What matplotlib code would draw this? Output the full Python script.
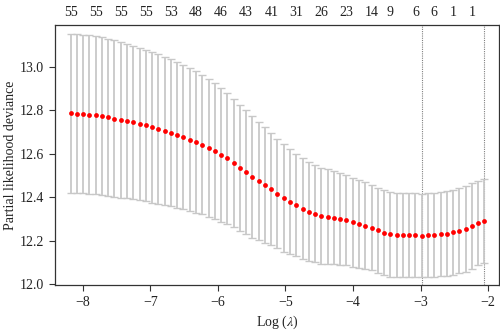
import matplotlib
matplotlib.use("Agg")
import matplotlib.pyplot as plt

# cross-validated partial likelihood deviance along the lambda path
log_lambda = [
    -8.180, -8.087, -7.994, -7.902, -7.809, -7.716, -7.623, -7.530, -7.438, -7.345,
    -7.252, -7.159, -7.066, -6.974, -6.881, -6.788, -6.695, -6.602, -6.510, -6.417,
    -6.324, -6.231, -6.138, -6.046, -5.953, -5.860, -5.767, -5.674, -5.582, -5.489,
    -5.396, -5.303, -5.210, -5.118, -5.025, -4.932, -4.839, -4.746, -4.654, -4.561,
    -4.468, -4.375, -4.282, -4.190, -4.097, -4.004, -3.911, -3.818, -3.726, -3.633,
    -3.540, -3.447, -3.354, -3.262, -3.169, -3.076, -2.983, -2.890, -2.798, -2.705,
    -2.612, -2.519, -2.426, -2.334, -2.241, -2.148, -2.055,
]
cvm = [
    12.786, 12.785, 12.783, 12.780, 12.777, 12.773, 12.768, 12.762, 12.756, 12.750,
    12.744, 12.737, 12.730, 12.722, 12.714, 12.705, 12.696, 12.687, 12.676, 12.665,
    12.654, 12.642, 12.628, 12.613, 12.596, 12.578, 12.558, 12.535, 12.515, 12.493,
    12.473, 12.455, 12.436, 12.416, 12.396, 12.379, 12.364, 12.347, 12.333, 12.323,
    12.313, 12.309, 12.306, 12.301, 12.294, 12.284, 12.276, 12.269, 12.259, 12.247,
    12.235, 12.229, 12.227, 12.226, 12.226, 12.224, 12.223, 12.224, 12.226, 12.229,
    12.232, 12.237, 12.246, 12.255, 12.267, 12.280, 12.289,
]
cvsd = [
    0.367, 0.367, 0.366, 0.365, 0.364, 0.363, 0.362, 0.360, 0.358, 0.356,
    0.354, 0.352, 0.350, 0.347, 0.344, 0.341, 0.339, 0.336, 0.333, 0.329,
    0.326, 0.322, 0.318, 0.314, 0.309, 0.304, 0.296, 0.290, 0.285, 0.280,
    0.272, 0.266, 0.258, 0.252, 0.247, 0.241, 0.236, 0.231, 0.228, 0.224,
    0.222, 0.219, 0.216, 0.212, 0.208, 0.206, 0.203, 0.199, 0.196, 0.195,
    0.196, 0.195, 0.194, 0.193, 0.193, 0.193, 0.193, 0.193, 0.193, 0.194,
    0.196, 0.197, 0.198, 0.198, 0.197, 0.194, 0.193,
]

# number of nonzero coefficients shown along the top
nzero_idx = [0, 4, 8, 12, 16, 20, 24, 28, 32, 36, 40, 44, 48, 51, 55, 58, 61, 64]
nzero_lab = ["55", "55", "55", "55", "53", "48", "46", "43", "41", "31",
             "26", "23", "14", "9", "6", "6", "1", "1"]

idx_min = 56
idx_1se = 66

plt.rcParams["font.family"] = ["Liberation Serif", "DejaVu Serif"]
plt.rcParams["mathtext.fontset"] = "stix"

fig = plt.figure(figsize=(5.0, 3.32), dpi=100)
ax = fig.add_axes([0.11, 0.1416, 0.888, 0.783])

ax.errorbar(log_lambda, cvm, yerr=cvsd, fmt="none", ecolor="#c8c8c8",
            elinewidth=1.3, capsize=2.6, capthick=1.0, zorder=2)
ax.scatter(log_lambda, cvm, s=12, color="#ff0000", linewidths=0, zorder=3)

for i in (idx_min, idx_1se):
    ax.axvline(log_lambda[i], color="#808080", linestyle=(0, (1, 1)),
               linewidth=0.8, zorder=1)

ax.set_xlim(-8.41, -1.84)
ax.set_ylim(11.995, 13.193)
ax.set_xticks([-8, -7, -6, -5, -4, -3, -2])
ax.set_xticklabels(["\u22128", "\u22127", "\u22126", "\u22125", "\u22124", "\u22123", "\u22122"])
ax.set_yticks([12.0, 12.2, 12.4, 12.6, 12.8, 13.0])
ax.set_yticklabels(["12.0", "12.2", "12.4", "12.6", "12.8", "13.0"])
ax.tick_params(axis="both", labelsize=10, length=4, width=0.8,
               color="#333333", labelcolor="#222222", pad=4)

for sp in ax.spines.values():
    sp.set_color("#333333")
    sp.set_linewidth(0.9)

ax.set_xlabel(r"Log ($\lambda$)", fontsize=10, color="#222222", labelpad=3)
ax.set_ylabel("Partial likelihood deviance", fontsize=10, color="#222222", labelpad=2)

for i, lab in zip(nzero_idx, nzero_lab):
    ax.text(log_lambda[i], 1.022, lab, transform=ax.get_xaxis_transform(),
            ha="center", va="bottom", fontsize=10, color="#222222")

fig.savefig("out.png", dpi=100)
